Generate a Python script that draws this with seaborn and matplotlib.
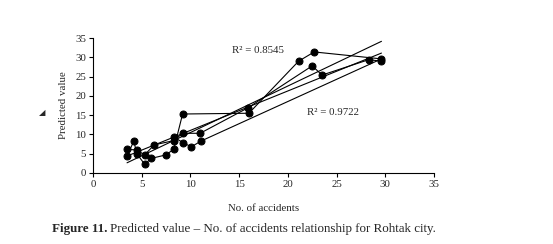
import numpy as np
import pandas as pd
import matplotlib
matplotlib.use("Agg")
import matplotlib.pyplot as plt
import seaborn as sns

# ---- data ----
# series 1 (R² = 0.8545), points in drawing order
acc_1 = [3.5, 4.2, 4.5, 5.3, 6.0, 7.5, 8.3, 9.2, 16.0, 21.1, 22.7, 29.6, 11.1, 10.1, 9.2, 8.3]
pred_1 = [4.4, 8.3, 5.0, 2.3, 3.8, 4.7, 6.2, 15.3, 15.5, 29.0, 31.4, 29.6, 8.3, 6.8, 7.9, 9.4]
# series 2 (R² = 0.9722)
acc_2 = [3.5, 4.5, 5.3, 6.3, 8.3, 9.2, 11.0, 15.9, 22.5, 23.5, 28.3, 29.6]
pred_2 = [6.1, 6.0, 4.7, 7.3, 8.4, 10.3, 10.3, 16.9, 27.8, 25.4, 29.4, 29.0]

r2_labels = ["R² = 0.8545", "R² = 0.9722"]
x_ticks = [0, 5, 10, 15, 20, 25, 30, 35]
y_ticks = [0, 5, 10, 15, 20, 25, 30, 35]

df1 = pd.DataFrame({"acc": acc_1, "pred": pred_1})
df2 = pd.DataFrame({"acc": acc_2, "pred": pred_2})

sns.set_style("white")
plt.rcParams["font.family"] = ["Liberation Serif", "DejaVu Serif"]

fig = plt.figure(figsize=(5.53, 2.44), dpi=100)
ax = fig.add_axes([0.168, 0.291, 0.617, 0.553])

for d in (df1, df2):
    sns.lineplot(data=d, x="acc", y="pred", sort=False, estimator=None,
                 color="black", linewidth=0.8, marker="o", markersize=5,
                 markeredgecolor="black", ax=ax)
    sns.regplot(data=d, x="acc", y="pred", scatter=False, ci=None,
                truncate=True, color="black", line_kws={"linewidth": 0.8}, ax=ax)

ax.set_xlim(0, 35)
ax.set_ylim(0, 35)
ax.set_xticks(x_ticks)
ax.set_yticks(y_ticks)
ax.tick_params(axis="both", labelsize=7.8, direction="out", length=3, width=0.8,
               color="black", pad=2, left=True, bottom=True)
for side in ("top", "right"):
    ax.spines[side].set_visible(False)
for side in ("left", "bottom"):
    ax.spines[side].set_color("black")
    ax.spines[side].set_linewidth(0.8)

ax.set_xlabel("No. of accidents", fontsize=7.8, labelpad=11)
ax.set_ylabel("Predicted value", fontsize=7.8, labelpad=5)

ax.text(16.9, 31.9, r2_labels[0], fontsize=7.8, ha="center", va="center")
ax.text(24.6, 15.6, r2_labels[1], fontsize=7.8, ha="center", va="center")

# stray marker left of the y label
fig.text(42 / 553, 1 - 113 / 244, "◢", fontsize=6, ha="center", va="center",
         family=["DejaVu Sans"])

# caption
fig.text(107 / 553, 1 - 229 / 244, "Figure 11.", fontsize=9.4, fontweight="bold",
         ha="right", va="center")
fig.text(110 / 553, 1 - 229 / 244,
         "Predicted value – No. of accidents relationship for Rohtak city.",
         fontsize=9.4, ha="left", va="center")

fig.savefig("out.png", dpi=100)
